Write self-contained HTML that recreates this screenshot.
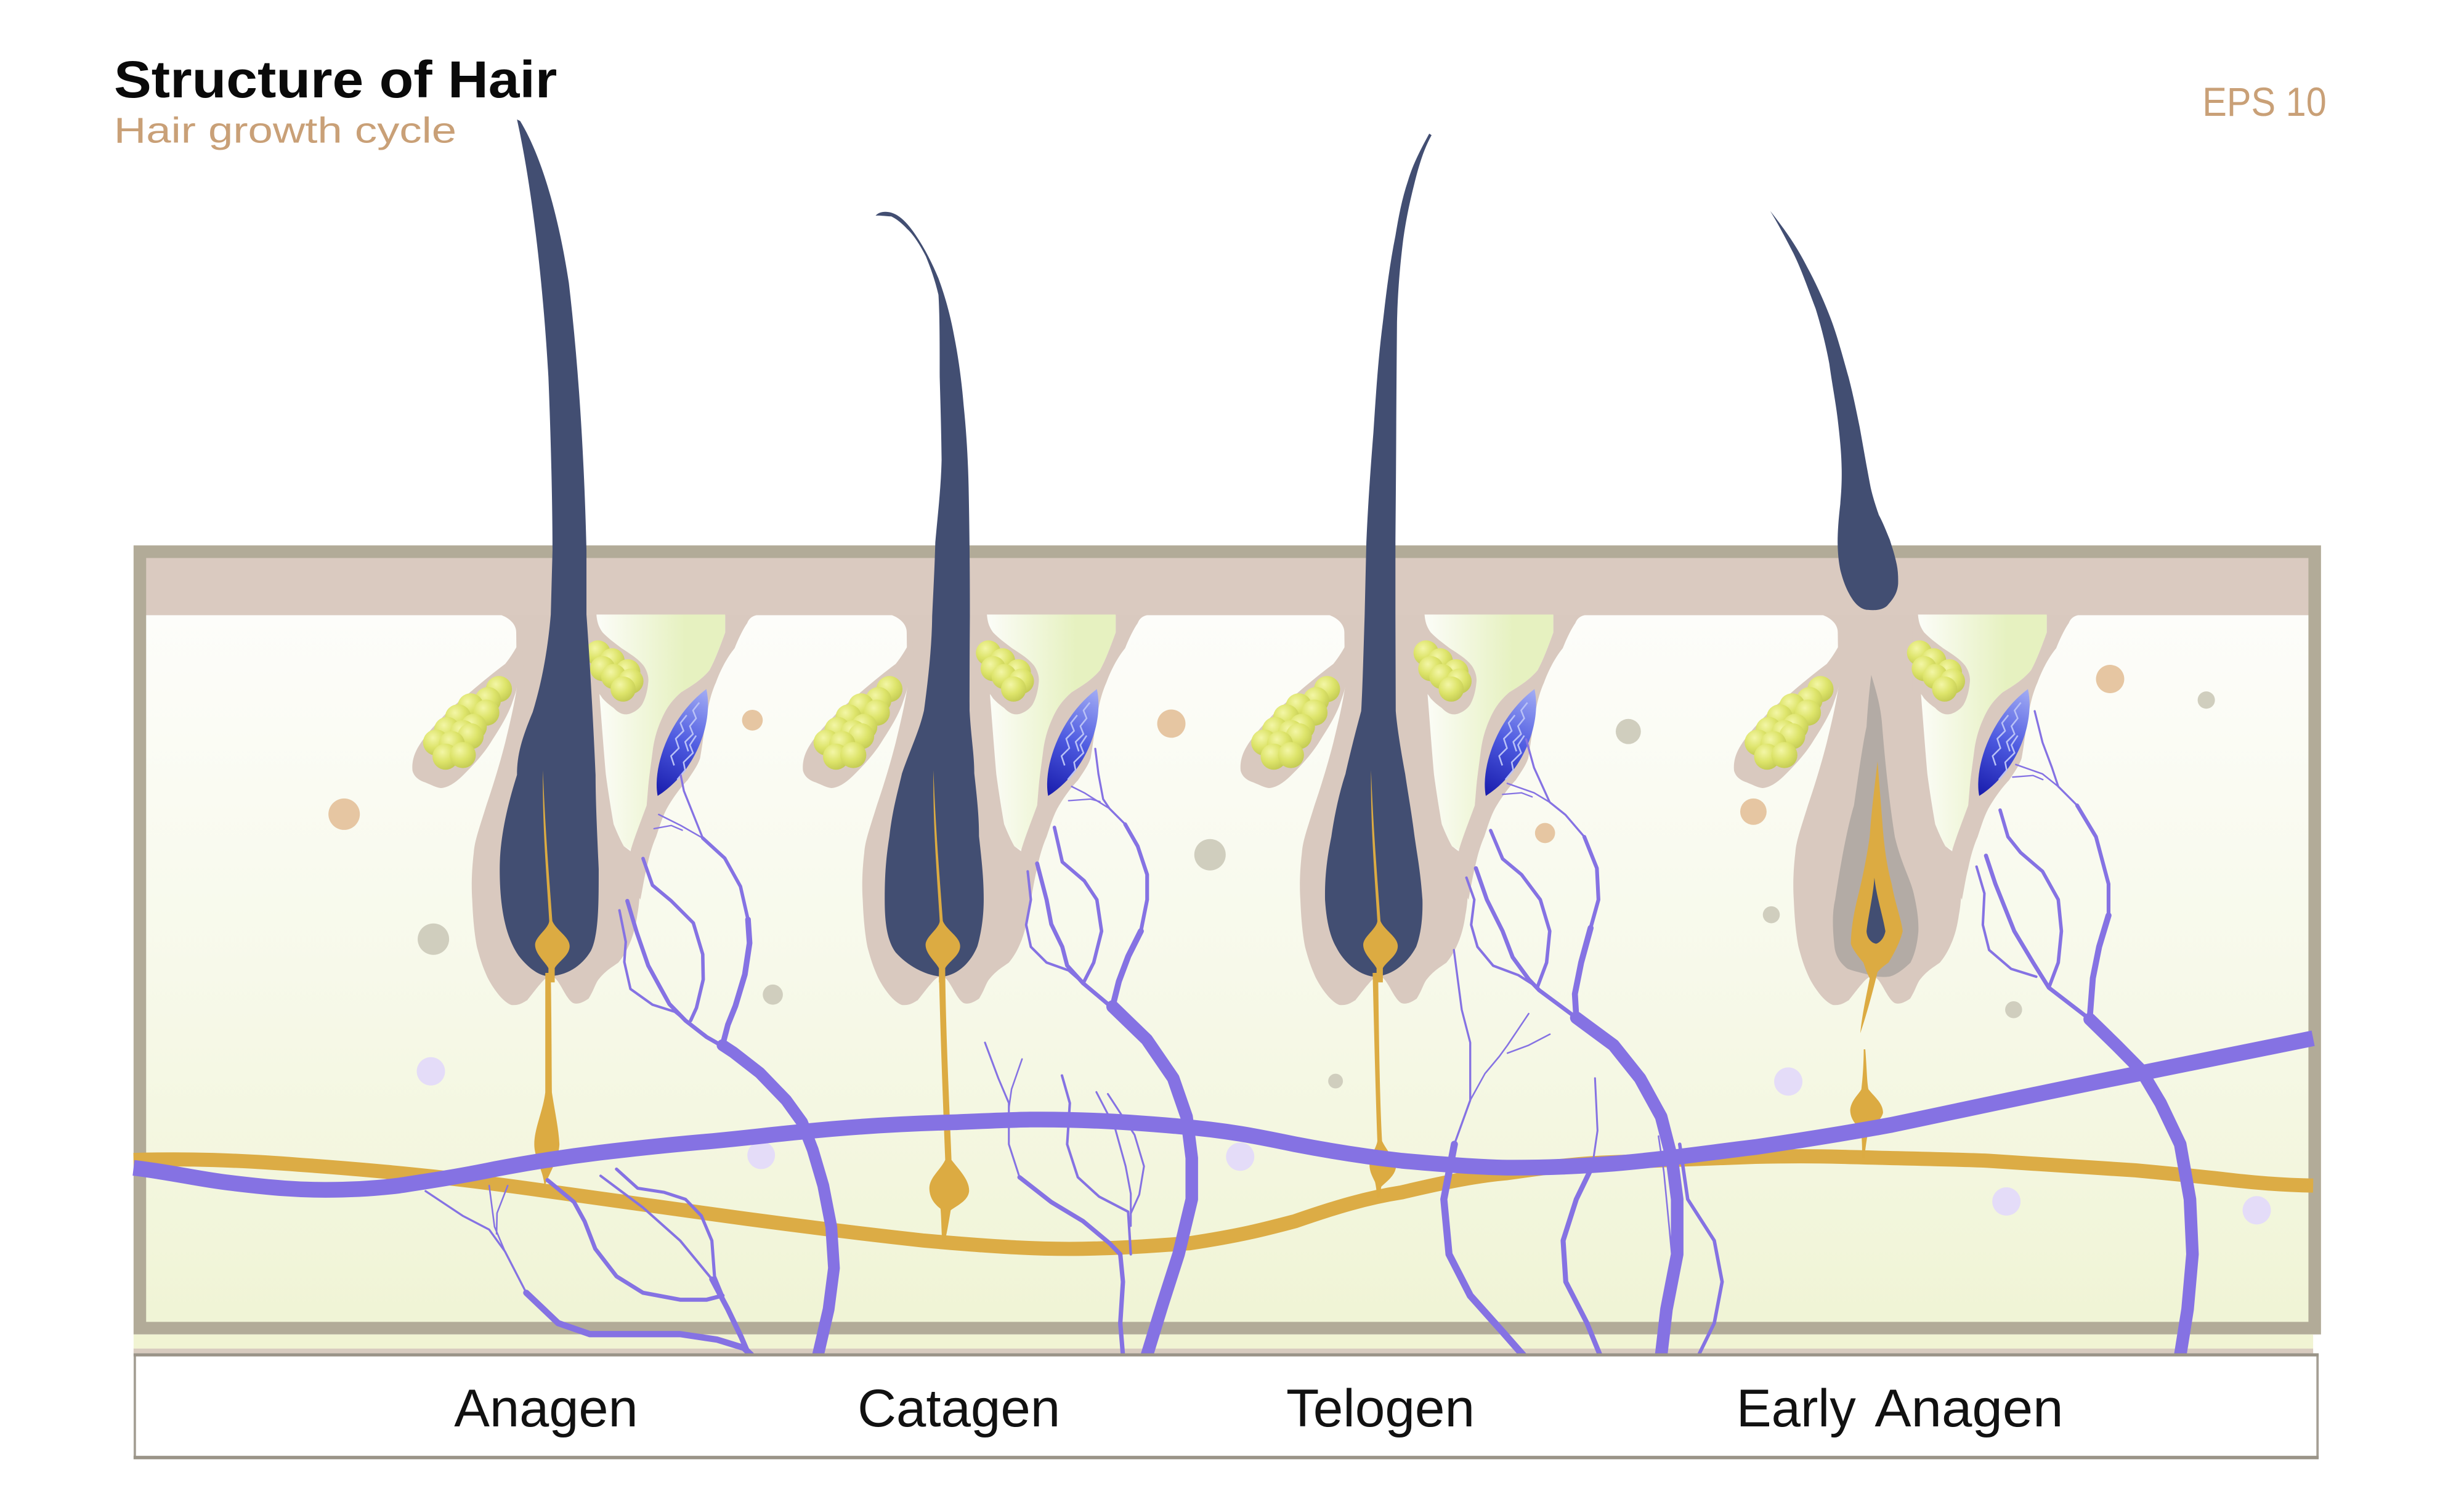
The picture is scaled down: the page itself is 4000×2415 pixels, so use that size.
<!DOCTYPE html>
<html>
<head>
<meta charset="utf-8">
<style>
html,body{margin:0;padding:0;background:#fff;overflow:hidden;}
svg{display:block;}
</style>
</head>
<body>
<svg xmlns="http://www.w3.org/2000/svg" xmlns:xlink="http://www.w3.org/1999/xlink" width="4000" height="2415" viewBox="0 0 1568 946.7" preserveAspectRatio="none">
<defs>
  <linearGradient id="dermis" x1="0" y1="391" x2="0" y2="845" gradientUnits="userSpaceOnUse">
    <stop offset="0" stop-color="#fdfdfa"/>
    <stop offset="0.5" stop-color="#f7f9ea"/>
    <stop offset="1" stop-color="#f0f4d5"/>
  </linearGradient>
  <linearGradient id="wedge" x1="28" y1="0" x2="82" y2="0" gradientUnits="userSpaceOnUse">
    <stop offset="0" stop-color="#fbfcf6"/>
    <stop offset="1" stop-color="#e6f1c0"/>
  </linearGradient>
  <radialGradient id="ball" cx="0.38" cy="0.32" r="0.7">
    <stop offset="0" stop-color="#f3f6a6"/>
    <stop offset="0.55" stop-color="#dde46a"/>
    <stop offset="1" stop-color="#c4cb54"/>
  </radialGradient>
  <linearGradient id="muscle" x1="96" y1="440" x2="65" y2="505" gradientUnits="userSpaceOnUse">
    <stop offset="0" stop-color="#a0aaf4"/>
    <stop offset="0.5" stop-color="#4d5ae0"/>
    <stop offset="1" stop-color="#1a1eae"/>
  </linearGradient>

  <g id="fol">
    <path fill="url(#wedge)" d="M25.5,391 L107.5,391 L107.5,402.4 C104,412 101,420 97.5,426.4 C92,433 85,437 79.5,440.4 C73,446 70,451 67.5,456.4 C64,464 62.5,470 61.5,476.4 C60,488 59,495 58.5,500.4 L57.5,512.4 C54,522 50,532 47.5,540.4 L43,538.4 L36.5,524.4 L31.5,492.4 L27.5,442.4 Z"/>
    <g fill="#d9c9bf">
      <path d="M-36,391 C-30,393 -25.5,397 -25.5,402.4 L-25.1,437.4 C-27,450 -30,462 -32.5,472.4 C-37,490 -42,505 -44.5,512.4 C-49,527 -52,535 -52.5,542.4 C-54,555 -54,565 -53.5,572.4 C-53,585 -52,595 -50.5,602.4 C-48,612 -46,617 -43.5,622.4 C-39,631 -33,638 -28.5,639.4 C-23,640 -20,637 -18.5,636.4 C-15,632 -12,628 -10.5,626.4 C-7,622 -5,621 -3.5,621.4 C-1,621 1,624 3.5,628.4 C6,633 9,638 11.5,638.4 C15,639 18,637 20.5,635.4 C24,630 25,625 27.5,622.4 C32,617 36,615 39.5,612.4 C44,607 46,602 47.5,598.4 C50,592 51,586 51.5,582.4 C53,575 53,568 53.5,562.4 C55,556 56,552 57.5,548.4 L47,541.4 C45,540 44,539 43,538.4 C40,533 38,528 36.5,524.4 C34,510 32.5,500 31.5,492.4 C30,475 28.5,455 27.5,442.4 L25.5,391 Z"/>
      <path d="M107.5,391 L107.5,402.4 C104,412 101,420 97.5,426.4 C92,433 85,437 79.5,440.4 C73,446 70,451 67.5,456.4 C64,464 62.5,470 61.5,476.4 C60,488 59,495 58.5,500.4 L57.5,512.4 C54,522 50,532 47.5,540.4 L45,556 L53.5,572.4 C55,565 56,558 57.5,552.4 C59,545 61,538 63.5,532.4 C66,525 68,518 71.5,512.4 C76,505 80,500 83.5,496.4 C87,491 90,487 91.5,482.4 C93,474 94,465 95.5,456.4 C97,447 99,440 101.5,434.4 C105,425 109,418 113.5,412.4 C116,406 119,400 121.5,396.4 C123,393 125,391.5 130,391 Z"/>
      <path d="M-22,405 C-25,412 -29,418 -32.5,422.4 C-40,428 -46,433 -52.5,438.4 C-60,445 -67,450 -72.5,456.4 C-79,463 -85,470 -88.5,476.4 C-91,481 -92,486 -91.5,490.4 C-90.5,494 -88,496 -84.5,497.4 C-80,499 -77,501 -73.5,501.4 C-68,501 -63,497 -58.5,492.4 C-51,485 -45,478 -40.5,470.4 C-35,462 -31,455 -28.5,448.4 C-27,444 -25.5,440 -25.1,437.4 L-20,437 Z"/>
      <path d="M25.5,391 C26,396 27,399 29.5,402.4 C33,406 37,409 41.5,412.4 C47,416 52,419 55.5,423.4 C58,427 59,431 58.5,434.4 C58,440 56.5,445 54.5,448.4 C52,452 48,454 45.5,454.4 C42,455 39,453 36.5,450.4 C33,448 31,446 29.5,444.4 C28,442 27,441 26.5,440.4 L22,440 L22,391 Z"/>
    </g>
    <g fill="url(#ball)">
      <circle cx="-36.5" cy="438.4" r="8.3"/>
      <circle cx="-43.5" cy="445.4" r="8.3"/>
      <circle cx="-54.5" cy="449.4" r="8.3"/>
      <circle cx="-44.5" cy="453.4" r="8.3"/>
      <circle cx="-62.5" cy="456.4" r="8.3"/>
      <circle cx="-52.5" cy="462.4" r="8.3"/>
      <circle cx="-69.5" cy="464.4" r="8.3"/>
      <circle cx="-59.5" cy="466.4" r="8.3"/>
      <circle cx="-54.5" cy="468.4" r="8.3"/>
      <circle cx="-76.5" cy="472.4" r="8.3"/>
      <circle cx="-66.5" cy="473.4" r="8.3"/>
      <circle cx="-70.5" cy="481.4" r="8.3"/>
      <circle cx="-59.5" cy="480.4" r="8.3"/>
      <circle cx="26.5" cy="415.4" r="8"/>
      <circle cx="35.5" cy="420.4" r="8"/>
      <circle cx="29.5" cy="425.4" r="8"/>
      <circle cx="45.5" cy="427.4" r="8"/>
      <circle cx="36.5" cy="430.4" r="8"/>
      <circle cx="47.5" cy="433.4" r="8"/>
      <circle cx="42.5" cy="438.4" r="8"/>
    </g>
    <path fill="url(#muscle)" d="M95.5,438.4 C100,458 90,490 64.5,506.4 C61,488 72,456 95.5,438.4 Z"/>
    <g fill="none" stroke="#b9c1f6" stroke-width="1" stroke-linejoin="round">
      <path d="M91,447 L87,452 L89,457 L85,462 L87,467 L82,472 L84,478"/>
      <path d="M83,455 L79,460 L81,465 L76,470 L78,476 L73,481 L75,487"/>
      <path d="M89,468 L85,474 L87,479 L81,485 L82,490 L77,496"/>
    </g>
  </g>
</defs>

<rect x="0" y="0" width="1568" height="946.7" fill="#ffffff"/>

<!-- Titles -->
<text x="72.5" y="62" font-family="Liberation Sans, Arial, sans-serif" font-weight="bold" font-size="33" fill="#0a0a0a" textLength="282" lengthAdjust="spacingAndGlyphs">Structure of Hair</text>
<text x="72.5" y="90.8" font-family="Liberation Sans, Arial, sans-serif" font-size="23" fill="#c9a077" textLength="218" lengthAdjust="spacingAndGlyphs">Hair growth cycle</text>
<text x="1401.5" y="73.8" font-family="Liberation Sans, Arial, sans-serif" font-size="26" fill="#c9a077" textLength="79" lengthAdjust="spacingAndGlyphs">EPS 10</text>

<!-- Skin box -->
<rect x="89" y="351" width="1384" height="494" fill="url(#dermis)"/>
<rect x="89" y="351" width="1384" height="40.4" fill="#dacac0"/>
<rect x="89" y="351" width="1384" height="494" fill="none" stroke="#b2ab98" stroke-width="8"/>

<!-- strip under box -->
<rect x="85" y="849" width="1387" height="9.5" fill="#f1f4d3"/>
<rect x="85" y="858" width="1387" height="3" fill="#d8cbbf"/>

<!-- Dots -->
<g fill="#e6c6a2">
  <circle cx="219" cy="518" r="10"/>
  <circle cx="478.8" cy="458.2" r="6.6"/>
  <circle cx="745.4" cy="460.4" r="9"/>
  <circle cx="983.2" cy="530" r="6.4"/>
  <circle cx="1115.8" cy="516.4" r="8.4"/>
  <circle cx="1342.8" cy="432" r="9"/>
</g>
<g fill="#d0cebe">
  <circle cx="275.8" cy="597.5" r="10"/>
  <circle cx="491.8" cy="632.8" r="6.4"/>
  <circle cx="770" cy="543.8" r="10"/>
  <circle cx="1036.2" cy="465.4" r="8"/>
  <circle cx="1244.8" cy="466.8" r="7"/>
  <circle cx="1404" cy="445.4" r="5.5"/>
  <circle cx="849.9" cy="687.8" r="4.7"/>
  <circle cx="1127.2" cy="582" r="5.4"/>
  <circle cx="1281.4" cy="642.4" r="5.4"/>
</g>
<g fill="#e4dcf8">
  <circle cx="274.2" cy="681.6" r="9"/>
  <circle cx="484.4" cy="735" r="8.8"/>
  <circle cx="789.2" cy="735.9" r="9"/>
  <circle cx="1138" cy="688.1" r="9"/>
  <circle cx="1276.8" cy="764.4" r="9"/>
  <circle cx="1436.1" cy="770" r="9"/>
</g>

<!-- Follicles -->
<use xlink:href="#fol" href="#fol" transform="translate(354,0)"/>
<use xlink:href="#fol" href="#fol" transform="translate(602.5,0)"/>
<use xlink:href="#fol" href="#fol" transform="translate(881,0)"/>
<use xlink:href="#fol" href="#fol" transform="translate(1195,0)"/>

<!-- Hairs -->
<g fill="#424e72">
  <path d="M329,76 C337,112 345,170 349,240 C351,290 351.6,330 351.6,350 L350.5,391 C348,420 343,440 339,453 C332,470 329,480 329,493 C322,515 318,535 318,553 C318,575 321,595 330,608 C337,617 344,621 349,621 C360,621 370,615 376,605 C381,595 381,575 381,553 C380,530 379,510 379,493 C378,470 376,430 373.2,391 L373.2,350 C372,300 369,240 362,180 C354,128 342,95 331,77 Z"/>
  <path d="M557.2,137.2 C560,134 566,134 571,137 C575,139.5 578,143 581.2,147.4 C588,157 593,167 597.2,177.1 C602,190 605,202 607.2,213.9 C610,228 612,243 613.2,257.6 C615,275 616,292 616.4,310.1 C617,340 617.2,365 617.2,392 C617,420 617,440 617,452 C618,470 620,480 620,492 C622,510 623,520 623,532 C625,550 626,560 626,572 C626,585 624,595 622,602 C618,612 610,620 600,621.4 C590,621 578,615 570,606 C564,598 563,585 563,572 C563,555 564,545 566,532 C568,515 571,505 574,492 C580,475 585,465 588,452 C591,430 593,410 593.2,392 C594,375 594.8,360 595.2,345 C597,325 598.8,310 599.2,292.6 C599,275 598.5,258 598,240 C598,220 598,200 597.2,187.6 C595,178 592,170 589.2,163.1 C585,155 581,149 577.2,145.6 C574,142 570,139 567.2,137.7 C563,137.5 560,137 557.2,137.2 Z"/>
  <path d="M909.5,85 C903,97 899,105 896,115 C892,127 890,138 888,150 C884,170 882,188 880,205 C877,228 875.5,252 874,275 C872,300 870.5,322 869.5,345 L868.4,392 C867.5,420 867,440 866.2,452.4 C862,468 859,480 856.2,492.4 C852,505 849,520 847.2,532.4 C844,548 843,560 843.2,572.4 C844,585 846,595 850.2,602.4 C855,612 864,620 874.2,621.4 C885,621 895,614 901.2,602.4 C904,595 905.5,585 905.2,572.4 C904,555 902,545 900.2,532.4 C898,515 896,505 894.2,492.4 C891,475 889,462 888.2,452.4 L888,392 L888,345 C888.2,320 888.4,298 888.5,275 C888.6,250 888.8,228 889,205 C889.5,185 891,168 893,152 C895,138 897.5,127 900,117 C903,105 906,95 911,86 Z"/>
  <path d="M1126.5,134.2 C1133,145 1137,153 1141.4,161.4 C1147,173 1151,185 1155.4,196.4 C1159,208 1162,220 1164.1,231.4 C1166,245 1168,255 1169.4,266.4 C1171,280 1172,290 1172,301.4 C1172,310 1171.5,315 1171.1,320.6 C1170,330 1169.4,338 1169.4,345.1 C1169.5,352 1170,357 1171.1,362.6 C1173,370 1175,375 1178.1,380.1 C1181,385 1185,388 1188.6,388 C1194,388.5 1198,388 1200.9,385.4 C1205,381 1207.5,377 1207.9,371.4 C1208,367 1207.8,363 1207,359.1 C1205.5,352 1204,348 1202.6,343.4 C1200,337 1198,332 1195.6,327.6 C1193,320 1191.5,315 1190.4,310.1 C1187.5,295 1185.5,283 1183.4,271.6 C1181,260 1179,250 1176.4,240.1 C1173,228 1169.5,215 1165.9,205.1 C1161,192 1156,181 1150.1,170.1 C1143,156 1135,145 1126.5,134.2 Z"/>
</g>

<!-- Papillae -->
<g fill="#dcab42">
  <path transform="translate(354,0)" d="M-8.5,490 C-7,530 -4,565 -2.5,586 C0,592 8.5,596 8.5,602 C8.5,608 1,612 -1,616 L-1,625 L-5,625 L-5,616 C-7,612 -13.5,607 -13.5,601 C-13.5,596 -5,591 -4.5,586 C-6,560 -9,525 -8.5,490 Z"/>
  <path transform="translate(602.5,0)" d="M-8.5,490 C-7,530 -4,565 -2.5,586 C0,592 8.5,596 8.5,602 C8.5,608 1,612 -1,616 L-1,625 L-5,625 L-5,616 C-7,612 -13.5,607 -13.5,601 C-13.5,596 -5,591 -4.5,586 C-6,560 -9,525 -8.5,490 Z"/>
  <path transform="translate(881,0)" d="M-8.5,490 C-7,530 -4,565 -2.5,586 C0,592 8.5,596 8.5,602 C8.5,608 1,612 -1,616 L-1,625 L-5,625 L-5,616 C-7,612 -13.5,607 -13.5,601 C-13.5,596 -5,591 -4.5,586 C-6,560 -9,525 -8.5,490 Z"/>
</g>

<!-- Early anagen inner -->
<path fill="#b3aba5" d="M1190.8,429.4 C1194,440 1197,450 1197.8,462.4 C1200,490 1203,515 1205.8,532.4 C1210,550 1216,560 1217.8,568.4 C1220,578 1221,585 1220.8,592.4 C1220,602 1218,608 1215.8,612.4 C1210,618 1205,621 1201.8,621.4 C1197,622 1192,621 1189.8,620.4 C1185,619 1180,618 1175.8,616.4 C1170,612 1168,607 1167.4,602.4 C1166,590 1166,580 1167.8,572.4 C1172,545 1176,525 1179.8,512.4 C1183,490 1186,470 1187.8,462.4 C1188.5,450 1189.5,440 1190.8,429.4 Z"/>
<path fill="#dcab42" d="M1194.8,484.4 C1196,500 1197,512 1197.8,522.4 C1199,540 1201,552 1203.8,562.4 C1206,575 1210,585 1210.8,592.4 C1209,600 1205,607 1201.8,612.4 C1198,615 1196,617 1194.8,618.4 C1192,630 1188,645 1183.8,657.4 C1185,645 1188,632 1189.8,622.4 C1188,619 1187,616 1185.8,612.4 C1182,608 1179,604 1177.8,600.4 C1178,590 1180,580 1181.8,572.4 C1185,560 1188,545 1189.8,532.4 C1191,515 1193,500 1194.8,484.4 Z"/>
<path fill="#424e72" d="M1192.8,558.4 C1194,570 1198,582 1199.8,592.4 C1199,597 1196,600 1193.8,600.4 C1191,600 1188,597 1187.8,592.4 C1189,582 1192,570 1192.8,558.4 Z"/>

<!-- Horizontal nerve -->
<path fill="none" stroke="#dcac45" stroke-width="9" d="M85,738 C120,737 150,738 190,741 C260,746 300,751 348,757.8 C400,765 430,769 450,772 C500,779 540,784 588,789.3 C630,793 660,795 689,794.5 C720,794 740,792 757,791 C790,786 805,782 824,777 C850,768 870,762 892,758.6 C920,752 940,748 959,746.4 C990,742 1005,740 1027,739.4 C1060,738 1090,737 1117,736 C1140,735.5 1155,735.5 1172,736 C1210,737 1240,737.5 1265,738.5 C1300,740.5 1330,742.5 1359,744.6 C1390,747.5 1405,749 1422,751 C1440,753 1455,754 1472,754.3"/>

<!-- Nerve stems -->
<g fill="#dcab42">
  <path d="M347,619 L350.5,619 C351,650 351,675 351.2,695 C353,707 355.5,718 356,728 C355.5,738 350,745 346.5,755 C346,745 340,737 340,728 C340,718 345.5,707 347,695 C347,675 347,650 347,619 Z"/>
  <path d="M597.5,619 L601.5,619 C602,660 604,700 605.5,738 C611,745 617,751 616.7,758 C616,764 609,767 605,770 C604,776 603,782 601.5,789 L599.5,789 C599,780 599,774 598.5,769 C594.5,766 591.5,762 591.4,756 C591.5,749 598,745 601.5,738 C600,700 598.5,660 597.5,619 Z"/>
  <path d="M873.5,619 L877,619 C877.5,660 878,700 879.5,726 C883,733 888.4,738 888.4,742 C888,748 882,752 879,755 L877.8,762 L876.3,762 C876,757 875.5,754 875,752 C873,748 871.5,745 871.5,741 C872,735 876,730 876.5,726 C875.5,700 874.5,660 873.5,619 Z"/>
  <path d="M1186,667.6 L1187,667.6 C1188,680 1188,688 1189,693 C1193,698 1198.3,702 1198.3,708 C1197,713 1192,716 1189,718 C1188,725 1187,730 1186.5,737 L1185,737 C1185,730 1185,724 1184,718 C1180,715 1177.4,711 1177.4,706 C1178,700 1183,696 1184.5,693 C1185.5,685 1186,675 1186,667.6 Z"/>
</g>

<!-- Vessels -->
<g fill="none" stroke="#8572e3" stroke-linecap="round" stroke-linejoin="round">
  <!-- Anagen -->
  <path stroke-width="1.3" d="M433.2,493.2 L435.2,503.2 L443.2,523.2 L447.2,533.2"/>
  <path stroke-width="2.2" d="M447.2,533.2 L461.2,546 L471.2,564 L476,585"/>
  <path stroke-width="3.6" d="M476,585 L477,600 L474,620 L468,640 L463.2,652 L459.8,665"/>
  <path stroke-width="1" d="M419.2,518.2 L433.2,525.2 L447.2,533.2"/>
  <path stroke-width="0.9" d="M416.2,527.2 L427.2,525.2 L434.2,528.2"/>
  <path stroke-width="2.2" d="M409.2,546.2 L415.2,563.2 L427.2,573.2 L441.2,587.2 L447.2,607.2 L447.5,623.2 L443.2,641.2 L439.5,649.3"/>
  <path stroke-width="2.6" d="M399.2,573.2 L405.2,593.2 L412.5,614.3 L420,628 L426,638.8 L436.2,649.3 L449.7,659.8 L466.5,669.4"/>
  <path stroke-width="1.6" d="M394.2,579.2 L398.2,599.2 L397.3,612 L401.2,629.2 L415.2,639.2 L429.4,643.7 L436.2,649.3"/>
  <path stroke-width="7.5" d="M459.8,665 L466.5,669.4 L483.4,682.5 L500.3,700 L510.4,714 L517.2,731.5 L523.9,754.3 L529,780.5 L530.7,806.8 L527.3,833 L520.5,862.4"/>
  <path stroke-width="2" d="M392.3,743.8 L405.8,756 L422.7,758.6 L436.2,763 L446.3,773.5 L453,789.3 L454.7,812 L459.8,824.3"/>
  <path stroke-width="1.6" d="M382.2,748.1 L409.2,768.3 L432.8,789.3 L453,813.8"/>
  <path stroke-width="3.4" d="M453,813.8 L463.2,833 L471.6,850.5 L476.7,862.4"/>
  <path stroke-width="2.6" d="M348.4,750.8 L365.3,764.8 L372,777 L378.8,794.5 L392.3,812 L409.2,822.5 L432.8,826.9 L449.7,826.9 L459.8,824.3"/>
  <path stroke-width="1.3" d="M270.8,757.8 L294.4,773.5 L311.3,782.3 L321.4,796.3 L334.9,822.5"/>
  <path stroke-width="4" d="M334.9,822.5 L355.2,841.8 L375.4,848.8 L399,848.8 L432.8,848.8 L456.4,852.3 L473.3,857.5 L478,862"/>
  <path stroke-width="1" d="M311.3,754.3 L314.7,780.5 L321.4,796.3"/>
  <path stroke-width="1" d="M323.1,754.3 L316.3,771.8 L316,785"/>

  <!-- Catagen -->
  <path stroke-width="1.3" d="M697,476.4 L699,492.4 L702,508.4 L706,514.4 L716,524.4"/>
  <path stroke-width="2.4" d="M716,524.4 L724,538.4 L730,556.4 L730,572.4 L726,592.4"/>
  <path stroke-width="3.8" d="M726,592.4 L718,608.4 L712,624.4 L708,640.4"/>
  <path stroke-width="1" d="M682,500.4 L690,504.4 L706,514.4"/>
  <path stroke-width="0.9" d="M680,509.4 L694,508.4 L700,510"/>
  <path stroke-width="2.2" d="M671,526.4 L676,548.4 L690,560.4 L698,572.4 L701,592.4 L696,612.4 L689.3,625.6"/>
  <path stroke-width="2.6" d="M660,549.4 L666,572.4 L669,588 L676,602.4 L679.1,614.3 L689.3,625.6 L711.2,644"/>
  <path stroke-width="1.6" d="M654,554.4 L656,572.4 L653,588.4 L656,602.4 L666,612.4 L680,617.4 L689.3,625.6"/>
  <path stroke-width="8" d="M708,640.4 L729.8,661.5 L746.6,686 L755.1,710.5 L758.4,736.8 L758.4,763 L750,798 L739.9,829.5 L729.8,862.4"/>
  <path stroke-width="1.2" d="M626.8,663.3 L635.3,686 L642,701.8 L642,728 L648.8,749"/>
  <path stroke-width="2.8" d="M648.8,749 L669,764.8 L689.3,777 L706.1,791 L712.9,798 L714.6,815.5 L712.9,841.8 L714.6,862.4"/>
  <path stroke-width="1" d="M650.4,673.8 L643.7,693 L642,705"/>
  <path stroke-width="1.6" d="M675.8,684.3 L680.8,701.8 L679.1,728 L685.9,749 L699.4,761.3 L717.9,770.9 L719.6,798"/>
  <path stroke-width="1.2" d="M697.7,694.8 L709.5,717.5 L716.3,742 L719.6,759.5 L719.6,780"/>
  <path stroke-width="1.2" d="M705,696 L722,722 L728,742 L725,760 L719.6,772"/>

  <!-- Telogen -->
  <path stroke-width="1.3" d="M971.2,470.4 L976.2,488.4 L986.2,510.4 L996.2,518.4 L1008.2,532.4"/>
  <path stroke-width="2.4" d="M1008.2,532.4 L1016.2,552.4 L1017.2,572.4 L1012.2,590.4"/>
  <path stroke-width="3.8" d="M1012.2,590.4 L1006.2,612.4 L1002.2,632.4 L1003.1,647.5"/>
  <path stroke-width="1" d="M959.2,498.4 L976.2,504.4 L986.2,510.4"/>
  <path stroke-width="0.9" d="M956.2,505.4 L968.2,504.4 L975,507"/>
  <path stroke-width="2.2" d="M948.6,528.4 L956.2,546.4 L968.2,556.4 L980.2,572.4 L986.2,592.4 L984.2,612.4 L978.2,628.4"/>
  <path stroke-width="2.6" d="M939.2,552.4 L946.2,572.4 L956.2,592.4 L962.6,609 L972.8,623 L979.5,630 L1003.1,647.5"/>
  <path stroke-width="1.6" d="M933.2,558.4 L938.2,572.4 L936.2,588.4 L940.2,602.4 L950.2,614.4 L966.2,620.4 L975,626"/>
  <path stroke-width="8" d="M1003.1,647.5 L1026.8,665 L1043.6,686 L1057.1,710.5 L1063.9,736.8 L1067.3,763 L1067.3,798 L1060.5,833 L1057.1,862.4"/>
  <path stroke-width="1.3" d="M925.2,604.4 L930.2,642.4 L935.6,663.3 L935.6,700 L925.5,728"/>
  <path stroke-width="4.5" d="M925.5,728 L918.8,763 L922.1,798 L935.6,824.3 L955.9,847 L969.4,862.4"/>
  <path stroke-width="1" d="M972.8,644.9 L959.3,665 L954.2,672 L945,683 L935.6,700"/>
  <path stroke-width="1" d="M986.3,658 L972.8,665 L959.3,670"/>
  <path stroke-width="1.2" d="M1015,686 L1016.6,719.3 L1013.3,742"/>
  <path stroke-width="3.2" d="M1013.3,742 L1003.1,763 L994.7,789.3 L996.4,815.5 L1009.9,841.8 L1018.3,862.4"/>
  <path stroke-width="1" d="M1055.4,722.8 L1058.8,745.5 L1062.2,780.5 L1064,800"/>
  <path stroke-width="2.2" d="M1068.9,728 L1074,763 L1090.9,789.3 L1095.9,815.5 L1090.9,841.8 L1080.8,862.4"/>

  <!-- Early anagen -->
  <path stroke-width="1.3" d="M1294.8,452.4 L1299.8,472.4 L1305.8,488.4 L1309.8,500.4 L1321.8,512.4"/>
  <path stroke-width="2.4" d="M1321.8,512.4 L1333.8,532.4 L1341.8,562.4 L1341.8,582.4"/>
  <path stroke-width="3.8" d="M1341.8,582.4 L1335.8,602.4 L1331.8,622.4 L1329.8,648.4"/>
  <path stroke-width="1" d="M1282.8,486.4 L1299.8,492.4 L1309.8,500.4"/>
  <path stroke-width="0.9" d="M1280.8,494.4 L1293.8,493.4 L1300,496"/>
  <path stroke-width="2.2" d="M1272.8,515.4 L1277.8,532.4 L1285.8,542.4 L1299.8,554.4 L1309.8,572.4 L1311.8,592.4 L1309.8,612.4 L1303.8,628.4"/>
  <path stroke-width="2.6" d="M1263.8,544.4 L1269.8,562.4 L1281.8,592.4 L1293.8,612.4 L1303.8,628.4 L1329.8,648.4"/>
  <path stroke-width="1.6" d="M1257.8,551.4 L1262.8,568.4 L1261.8,588.4 L1265.8,604.4 L1279.8,616.4 L1295.8,621.4"/>
  <path stroke-width="8" d="M1329.8,648.4 L1346.8,665 L1362.4,680.8 L1374.9,701.8 L1387.4,728 L1393.6,763 L1395.2,798 L1392.1,833 L1387.4,862.4"/>
</g>

<!-- Horizontal vessel -->
<path fill="none" stroke="#8572e3" stroke-width="10" d="M85,743 C110,746 125,750 146,752.5 C175,756 190,757 207,757 C225,757 240,756 254,754.3 C275,751 295,748 315,743.8 C340,739 360,736 382,733.3 C410,730 430,728 450,726.3 C475,724 490,722 510,720.1 C540,717 570,715 608,714 C620,713.5 640,712.5 655.5,712.3 C690,712 720,714 750,716.6 C780,719 800,723 824,728 C850,733 870,736 892,738.5 C920,741 940,742.5 959,742.9 C985,743 1005,742 1027,740.3 C1060,737.5 1090,733 1117,729.8 C1150,725 1180,720 1203,715.8 C1250,706 1300,695 1359,683.4 C1400,675 1440,667 1472,660.6"/>

<!-- Label box -->
<rect x="85.8" y="861.8" width="1389" height="65.5" fill="#ffffff" stroke="#a59f95" stroke-width="1.5"/>
<line x1="85" y1="862" x2="1475.5" y2="862" stroke="#9a9488" stroke-width="2"/>
<line x1="85" y1="927.3" x2="1475.5" y2="927.3" stroke="#9a9488" stroke-width="2.2"/>

<g font-family="Liberation Sans, Arial, sans-serif" font-size="34" fill="#111111">
  <text x="289" y="907.5" textLength="117" lengthAdjust="spacingAndGlyphs">Anagen</text>
  <text x="545.7" y="907.5" textLength="129" lengthAdjust="spacingAndGlyphs">Catagen</text>
  <text x="818.5" y="907.5" textLength="120" lengthAdjust="spacingAndGlyphs">Telogen</text>
  <text x="1105" y="907.5" textLength="76" lengthAdjust="spacingAndGlyphs">Early</text>
  <text x="1193" y="907.5" textLength="120" lengthAdjust="spacingAndGlyphs">Anagen</text>
</g>
</svg>
</body>
</html>
